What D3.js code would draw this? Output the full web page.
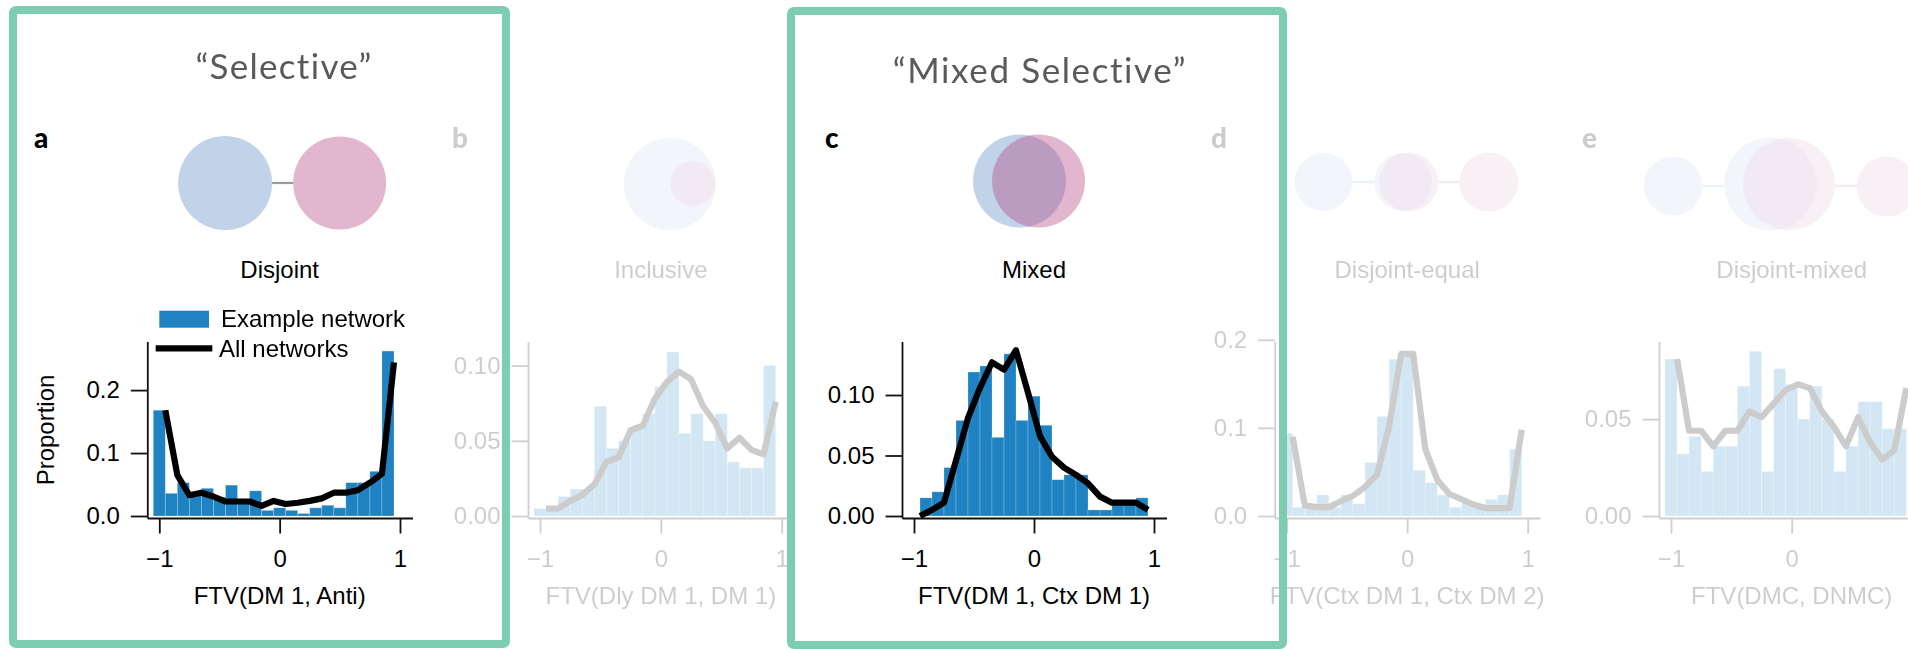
<!DOCTYPE html>
<html>
<head>
<meta charset="utf-8">
<script src="https://cdn.jsdelivr.net/npm/d3@7"></script>
<style>
  html, body { margin: 0; padding: 0; background: #fff; }
  svg { display: block; }
</style>
</head>
<body>
<svg id="fig" width="1908" height="649"></svg>
<script>
// Histogram bins (bar centres) and the points of the averaged curve
const binCenters = [-1.0, -0.9, -0.8, -0.7, -0.6, -0.5, -0.4, -0.3, -0.2, -0.1,
                    0.0, 0.1, 0.2, 0.3, 0.4, 0.5, 0.6, 0.7, 0.8, 0.9];
const curveX = [-0.95, -0.85, -0.75, -0.65, -0.55, -0.45, -0.35, -0.25, -0.15, -0.05,
                0.05, 0.15, 0.25, 0.35, 0.45, 0.55, 0.65, 0.75, 0.85, 0.95];

// a: Disjoint — FTV(DM 1, Anti)
const exampleA = [0.168, 0.036, 0.053, 0.035, 0.044, 0.030, 0.049, 0.025, 0.040, 0.009,
                  0.013, 0.009, 0.004, 0.013, 0.017, 0.013, 0.053, 0.053, 0.071, 0.262];
const allNetA  = [0.168, 0.065, 0.033, 0.037, 0.031, 0.023, 0.023, 0.023, 0.016, 0.024,
                  0.019, 0.021, 0.024, 0.028, 0.037, 0.037, 0.041, 0.053, 0.067, 0.244];
// b: Inclusive — FTV(Dly DM 1, DM 1)
const exampleB = [0.005, 0.005, 0.013, 0.018, 0.018, 0.073, 0.045, 0.050, 0.058, 0.068,
                  0.086, 0.109, 0.055, 0.068, 0.050, 0.068, 0.036, 0.032, 0.032, 0.100];
const allNetB  = [0.005, 0.005, 0.010, 0.014, 0.021, 0.036, 0.039, 0.057, 0.060, 0.078,
                  0.089, 0.096, 0.091, 0.073, 0.062, 0.045, 0.052, 0.044, 0.041, 0.076];
// c: Mixed — FTV(DM 1, Ctx DM 1)
const exampleC = [0.000, 0.015, 0.020, 0.040, 0.079, 0.119, 0.124, 0.065, 0.134, 0.079,
                  0.099, 0.075, 0.030, 0.034, 0.034, 0.005, 0.005, 0.010, 0.010, 0.015];
const allNetC  = [0.000, 0.005, 0.011, 0.046, 0.081, 0.106, 0.127, 0.121, 0.137, 0.102,
                  0.066, 0.049, 0.040, 0.034, 0.027, 0.016, 0.011, 0.011, 0.011, 0.005];
// d: Disjoint-equal — FTV(Ctx DM 1, Ctx DM 2)
const exampleD = [0.094, 0.010, 0.010, 0.024, 0.010, 0.024, 0.014, 0.061, 0.113, 0.178,
                  0.181, 0.052, 0.038, 0.024, 0.010, 0.015, 0.010, 0.019, 0.024, 0.076];
const allNetD  = [0.090, 0.012, 0.010, 0.010, 0.017, 0.023, 0.033, 0.047, 0.102, 0.184,
                  0.184, 0.076, 0.041, 0.025, 0.019, 0.013, 0.009, 0.009, 0.009, 0.098];
// e: Disjoint-mixed — FTV(DMC, DNMC)
const exampleE = [0.081, 0.032, 0.041, 0.023, 0.036, 0.036, 0.067, 0.085, 0.023, 0.076,
                  0.068, 0.050, 0.067, 0.050, 0.023, 0.036, 0.059, 0.059, 0.045, 0.045];
const allNetE  = [0.081, 0.044, 0.044, 0.036, 0.044, 0.044, 0.054, 0.051, 0.058, 0.065,
                  0.068, 0.066, 0.054, 0.046, 0.036, 0.051, 0.038, 0.029, 0.034, 0.066];

// Axis ticks
const xTicks = [-1, 0, 1];
const yTicksA = [0, 0.1, 0.2];
const yTicksB = [0, 0.05, 0.10];
const yTicksC = [0, 0.05, 0.10];
const yTicksD = [0, 0.1, 0.2];
const yTicksE = [0, 0.05];

const panelLetters = ["a", "b", "c", "d", "e"];
const categoryNames = ["Disjoint", "Inclusive", "Mixed", "Disjoint-equal", "Disjoint-mixed"];
const axisTitles = ["FTV(DM 1, Anti)", "FTV(Dly DM 1, DM 1)", "FTV(DM 1, Ctx DM 1)",
                    "FTV(Ctx DM 1, Ctx DM 2)", "FTV(DMC, DNMC)"];
const groupTitles = ["\u201cSelective\u201d", "\u201cMixed Selective\u201d"];
const legendLabels = ["Example network", "All networks"];

// ---------------------------------------------------------------
const svg = d3.select("#fig");
svg.append("rect").attr("width", 1908).attr("height", 649).attr("fill", "#fff");

const BAR = "#1e82c3";
const SANS = "'Liberation Sans', Arial, Helvetica, sans-serif";
const GEO = "Lato, 'Noto Sans', sans-serif";
const BLUE_C = "rgb(98,145,198)", PINK_C = "rgb(182,72,132)";

const Y0 = 516, YTOP = 342, XAXIS_Y = 518.5;

const panels = [
  { bars: exampleA, line: allNetA, yMax: 0.2764, yTicks: yTicksA, fmt: ".1f",
    xl: 159.3, xr: 400.0, letterX: 34, active: true, ylabel: "Proportion" },
  { bars: exampleB, line: allNetB, yMax: 0.1157, yTicks: yTicksB, fmt: ".2f",
    xl: 540.0, xr: 781.7, letterX: 452, active: false },
  { bars: exampleC, line: allNetC, yMax: 0.1438, yTicks: yTicksC, fmt: ".2f",
    xl: 914.0, xr: 1154.0, letterX: 825, active: true },
  { bars: exampleD, line: allNetD, yMax: 0.1975, yTicks: yTicksD, fmt: ".1f",
    xl: 1286.7, xr: 1527.7, letterX: 1211, active: false },
  { bars: exampleE, line: allNetE, yMax: 0.0898, yTicks: yTicksE, fmt: ".2f",
    xl: 1671.0, xr: 1912.4, letterX: 1582, active: false }
];

// Venn-style diagrams, offsets relative to each panel's x = 0 position
const diagrams = [
  { circles: [ {dx: -54.5, cy: 183, r: 47, c: BLUE_C}, {dx: 60, cy: 183, r: 46.5, c: PINK_C} ],
    links: [ {x1: -7.5, x2: 13.5, cy: 183, c: "#9a9a9a"} ] },
  { circles: [ {dx: 9, cy: 184, r: 46, c: BLUE_C}, {dx: 32, cy: 183.5, r: 22.5, c: PINK_C} ],
    links: [] },
  { circles: [ {dx: -14.5, cy: 181, r: 46.5, c: BLUE_C}, {dx: 4.5, cy: 181, r: 46.5, c: PINK_C} ],
    links: [] },
  { circles: [ {dx: -84, cy: 182, r: 29, c: BLUE_C}, {dx: -4, cy: 182, r: 29, c: BLUE_C},
               {dx: 1.5, cy: 182, r: 29.5, c: PINK_C}, {dx: 81.5, cy: 182, r: 29.5, c: PINK_C} ],
    links: [ {x1: -55, x2: -33, cy: 182, c: "rgb(98,145,198)"}, {x1: 31, x2: 52, cy: 182, c: "rgb(182,72,132)"} ] },
  { circles: [ {dx: -118.7, cy: 186, r: 29.5, c: BLUE_C}, {dx: -21.2, cy: 184, r: 46.5, c: BLUE_C},
               {dx: -2.7, cy: 184, r: 46, c: PINK_C}, {dx: 95, cy: 186.5, r: 30, c: PINK_C} ],
    links: [ {x1: -89, x2: -68, cy: 186, c: "rgb(98,145,198)"}, {x1: 43.3, x2: 65.3, cy: 186, c: "rgb(182,72,132)"} ] }
];

panels.forEach((p, i) => {
  const g = svg.append("g").attr("opacity", p.active ? 1 : 0.2);
  const x = d3.scaleLinear().domain([-1, 1]).range([p.xl, p.xr]);
  const y = d3.scaleLinear().domain([0, p.yMax]).range([Y0, YTOP]);
  const axisX = p.xl - 11.5;
  const x0 = x(0);

  // panel letter
  g.append("text").attr("x", p.letterX).attr("y", 148)
    .attr("font-family", GEO).attr("font-weight", 900).attr("font-size", 28)
    .attr("fill", "#000").text(panelLetters[i]);

  // diagram
  const dg = g.append("g");
  diagrams[i].links.forEach(l => {
    dg.append("line").attr("x1", x0 + l.x1).attr("x2", x0 + l.x2)
      .attr("y1", l.cy).attr("y2", l.cy)
      .attr("stroke", l.c).attr("stroke-width", 2.2).attr("stroke-opacity", l.c.startsWith("#") ? 1 : 0.6);
  });
  diagrams[i].circles.forEach(c => {
    dg.append("circle").attr("cx", x0 + c.dx).attr("cy", c.cy).attr("r", c.r)
      .attr("fill", c.c).attr("fill-opacity", 0.4);
  });

  // category name
  g.append("text").attr("x", x0).attr("y", 278).attr("text-anchor", "middle")
    .attr("font-family", SANS).attr("font-size", 24).attr("fill", "#000")
    .text(categoryNames[i]);

  // bars
  g.append("g").selectAll("rect").data(p.bars).join("rect")
    .attr("x", (d, k) => x(binCenters[k] - 0.05))
    .attr("width", (d, k) => x(binCenters[k] + 0.05) - x(binCenters[k] - 0.05))
    .attr("y", d => y(d))
    .attr("height", d => Y0 - y(d))
    .attr("fill", BAR)
    .attr("stroke", "#ffffff").attr("stroke-opacity", 0.28).attr("stroke-width", 0.8);

  // average curve across networks
  const lineGen = d3.line().x((d, k) => x(curveX[k])).y(d => y(d));
  g.append("path").datum(p.line).attr("d", lineGen)
    .attr("fill", "none").attr("stroke", "#000").attr("stroke-width", 6.2)
    .attr("stroke-linejoin", "round");

  // spines
  g.append("line").attr("x1", axisX).attr("x2", axisX).attr("y1", YTOP).attr("y2", XAXIS_Y)
    .attr("stroke", "#111").attr("stroke-width", 1.8);
  g.append("line").attr("x1", axisX).attr("x2", p.xr + 13).attr("y1", XAXIS_Y).attr("y2", XAXIS_Y)
    .attr("stroke", "#111").attr("stroke-width", 1.8);

  // y axis ticks
  const yAxis = d3.axisLeft(y).tickValues(p.yTicks).tickFormat(d3.format(p.fmt))
    .tickSize(17).tickPadding(11);
  const ya = g.append("g").attr("transform", `translate(${axisX},0)`).call(yAxis);
  ya.select(".domain").remove();
  ya.selectAll(".tick line").attr("stroke", "#111").attr("stroke-width", 1.8);
  ya.selectAll(".tick text").attr("font-family", SANS).attr("font-size", 24).attr("fill", "#000");

  // x axis ticks
  const xAxis = d3.axisBottom(x).tickValues(xTicks)
    .tickFormat(d => d < 0 ? "\u2212" + Math.abs(d) : String(d))
    .tickSize(15).tickPadding(16);
  const xa = g.append("g").attr("transform", `translate(0,${XAXIS_Y})`).call(xAxis);
  xa.select(".domain").remove();
  xa.selectAll(".tick line").attr("stroke", "#111").attr("stroke-width", 1.8);
  xa.selectAll(".tick text").attr("font-family", SANS).attr("font-size", 24).attr("fill", "#000");

  // axis title
  g.append("text").attr("x", x0).attr("y", 604).attr("text-anchor", "middle")
    .attr("font-family", SANS).attr("font-size", 24).attr("fill", "#000")
    .text(axisTitles[i]);

  if (p.ylabel) {
    g.append("text").attr("transform", `translate(54,430) rotate(-90)`)
      .attr("text-anchor", "middle").attr("font-family", SANS).attr("font-size", 24)
      .attr("fill", "#000").text(p.ylabel);
  }
});

// legend (panel a)
const lg = svg.append("g");
lg.append("rect").attr("x", 159.3).attr("y", 310.7).attr("width", 49.7).attr("height", 17).attr("fill", BAR);
lg.append("text").attr("x", 221).attr("y", 327).attr("font-family", SANS).attr("font-size", 24)
  .attr("fill", "#000").text(legendLabels[0]);
lg.append("line").attr("x1", 155.7).attr("x2", 212.3).attr("y1", 348.3).attr("y2", 348.3)
  .attr("stroke", "#000").attr("stroke-width", 6.2);
lg.append("text").attr("x", 219).attr("y", 357).attr("font-family", SANS).attr("font-size", 24)
  .attr("fill", "#000").text(legendLabels[1]);

// group titles
svg.append("text").attr("x", 284).attr("y", 79).attr("text-anchor", "middle")
  .attr("font-family", GEO).attr("font-weight", 400).attr("font-size", 35)
  .attr("letter-spacing", 1.3).attr("fill", "#5a5a5a").text(groupTitles[0]);
svg.append("text").attr("x", 1040).attr("y", 83).attr("text-anchor", "middle")
  .attr("font-family", GEO).attr("font-weight", 400).attr("font-size", 35)
  .attr("letter-spacing", 1.6).attr("fill", "#5a5a5a").text(groupTitles[1]);

// highlight frames around the selective / mixed-selective panels
svg.append("rect").attr("x", 13).attr("y", 10).attr("width", 493).attr("height", 634)
  .attr("rx", 3).attr("fill", "none").attr("stroke", "#7dcdb3").attr("stroke-width", 8);
svg.append("rect").attr("x", 791).attr("y", 11).attr("width", 492).attr("height", 634)
  .attr("rx", 3).attr("fill", "none").attr("stroke", "#7dcdb3").attr("stroke-width", 8);
</script>
</body>
</html>
